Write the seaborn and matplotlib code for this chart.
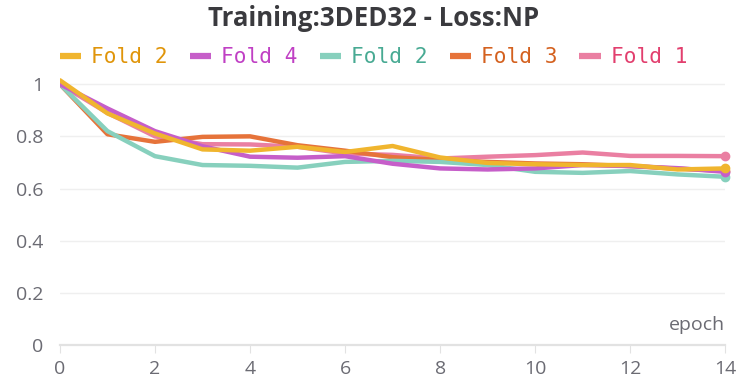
import matplotlib
matplotlib.use("Agg")
import matplotlib.pyplot as plt
import seaborn as sns
import pandas as pd
from matplotlib.lines import Line2D

epochs = list(range(15))

fold2_a = [1.015, 0.888, 0.811, 0.750, 0.745, 0.760, 0.740, 0.763, 0.719, 0.698, 0.693, 0.690, 0.690, 0.673, 0.677]
fold4 = [1.000, 0.907, 0.820, 0.762, 0.722, 0.718, 0.724, 0.695, 0.677, 0.673, 0.677, 0.690, 0.686, 0.678, 0.664]
fold2_b = [1.000, 0.820, 0.724, 0.690, 0.687, 0.680, 0.702, 0.706, 0.702, 0.690, 0.664, 0.660, 0.667, 0.654, 0.645]
fold3 = [1.000, 0.808, 0.779, 0.798, 0.800, 0.766, 0.745, 0.720, 0.709, 0.702, 0.696, 0.693, 0.686, 0.676, 0.668]
fold1 = [1.000, 0.890, 0.800, 0.770, 0.769, 0.760, 0.734, 0.729, 0.715, 0.722, 0.728, 0.738, 0.725, 0.725, 0.724]

labels = ["Fold 2", "Fold 4", "Fold 2", "Fold 3", "Fold 1"]
series = [fold2_a, fold4, fold2_b, fold3, fold1]
line_colors = ["#f0b52e", "#c65ec9", "#87d0bd", "#e6733a", "#ea7fa2"]
text_colors = ["#e0950a", "#c040c4", "#48aa93", "#d4611f", "#e23f6e"]

sns.set_theme(style="white")
plt.rcParams["font.family"] = ["Open Sans", "DejaVu Sans"]

fig = plt.figure(figsize=(7.4, 3.85), dpi=100)
ax = fig.add_axes([0.081, 0.104, 0.899, 0.701])

# draw back-to-front so the first fold sits on top
draw_order = [4, 3, 2, 1, 0]
for i in draw_order:
    df = pd.DataFrame({"epoch": epochs, "loss": series[i]})
    sns.lineplot(data=df, x="epoch", y="loss", ax=ax, color=line_colors[i],
                 linewidth=3.2, legend=False, zorder=3 + (4 - i) * 0.1)
    ax.plot([epochs[-1]], [series[i][-1]], "o", color=line_colors[i],
            markersize=6, zorder=3 + (4 - i) * 0.1, clip_on=False)

ax.set_xlim(0, 14)
ax.set_ylim(0, 1.035)
ax.set_xticks(range(0, 15, 2))
ax.set_yticks([0, 0.2, 0.4, 0.6, 0.8, 1.0])
ax.set_yticklabels(["0", "0.2", "0.4", "0.6", "0.8", "1"])
ax.grid(axis="y", color="#efefef", linewidth=1.0)
ax.grid(axis="x", visible=False)
for s in ["top", "right", "left"]:
    ax.spines[s].set_visible(False)
ax.spines["bottom"].set_color("#e2e2e2")
ax.spines["bottom"].set_linewidth(1.6)
ax.spines["bottom"].set_zorder(2)
ax.tick_params(axis="x", which="both", bottom=True, length=6, width=0.8,
               color="#e2e2e2", labelsize=14, labelcolor="#6b6b73", pad=5)
ax.tick_params(axis="y", left=False, labelsize=14, labelcolor="#6b6b73", pad=6)
ax.set_xlabel("")
ax.set_ylabel("")
ax.text(1.0, 0.04, "epoch", transform=ax.transAxes, ha="right", va="bottom",
        fontsize=14, color="#6b6b73")

fig.text(0.505, 0.952, "Training:3DED32 - Loss:NP", ha="center", va="center",
         fontsize=18.5, fontweight="bold", color="#3a3a3e")

handles = [Line2D([0], [0], color=c, linewidth=4.5, solid_capstyle="butt")
           for c in line_colors]
leg = fig.legend(handles, labels, loc="center", bbox_to_anchor=(0.505, 0.852),
                 ncol=5, frameon=False, handlelength=1.0, handletextpad=0.5,
                 columnspacing=1.03, borderpad=0.0,
                 prop={"family": "DejaVu Sans Mono", "size": 15.2})
for t, c in zip(leg.get_texts(), text_colors):
    t.set_color(c)

fig.savefig("out.png", dpi=100)
